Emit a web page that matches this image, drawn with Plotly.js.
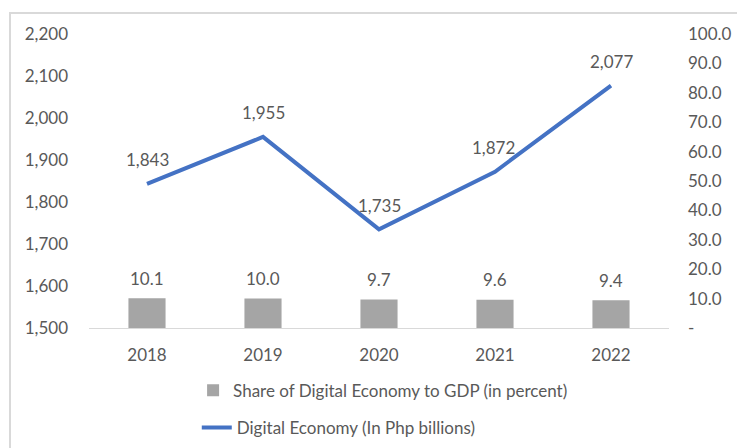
<!DOCTYPE html>
<html><head><meta charset="utf-8">
<script src="https://cdn.plot.ly/plotly-3.0.1.min.js"></script>
<style>
html,body{margin:0;padding:0;background:#fff;overflow:hidden;}
#frame{position:absolute;left:9px;top:12px;width:900px;height:600px;border:2px solid #D9D9D9;}
#chart{position:absolute;left:0;top:0;width:737px;height:448px;}
</style></head>
<body>
<div id="frame"></div>
<div id="chart"></div>
<script>
const years = ['2018','2019','2020','2021','2022'];
const sharePct = [10.1, 10.0, 9.7, 9.6, 9.4];
const digitalEconomy = [1843, 1955, 1735, 1872, 2077];
const leftTicks = [1500,1600,1700,1800,1900,2000,2100,2200];
const rightTicks = [0,10,20,30,40,50,60,70,80,90,100];
const rightTickText = ['-','10.0','20.0','30.0','40.0','50.0','60.0','70.0','80.0','90.0','100.0'];

const FONT = 'Lato, "Open Sans", sans-serif';
const TXT = '#595959';
const FS = 17;

const traces = [
  {type:'bar', x:years, y:sharePct, yaxis:'y2', name:'Share of Digital Economy to GDP (in percent)',
   marker:{color:'#A5A5A5'}, width:0.32, hoverinfo:'skip', legend:'legend'},
  {type:'scatter', mode:'lines', x:years, y:digitalEconomy, name:'Digital Economy (In Php billions)',
   line:{color:'#4472C4', width:4}, hoverinfo:'skip', legend:'legend2'}
];

const annotations = [];
years.forEach((yr,i)=>{
  annotations.push({x:i, y:sharePct[i], xref:'x', yref:'y2', text:sharePct[i].toFixed(1),
    showarrow:false, yanchor:'middle', yshift:20, font:{family:FONT,size:FS,color:TXT}});
  annotations.push({x:i, y:digitalEconomy[i], xref:'x', yref:'y', text:digitalEconomy[i].toLocaleString('en-US'),
    showarrow:false, yanchor:'middle', yshift:24, xshift:(i===3?-2:0), font:{family:FONT,size:FS,color:TXT}});
});

const layout = {
  width:737, height:448,
  margin:{l:89, r:68, t:34, b:120, autoexpand:false},
  paper_bgcolor:'rgba(0,0,0,0)', plot_bgcolor:'rgba(0,0,0,0)',
  font:{family:FONT, size:FS, color:TXT},
  showlegend:true,
  xaxis:{type:'category', categoryorder:'array', categoryarray:years, range:[-0.5,4.5], autorange:false,
    showgrid:false, showline:true, linecolor:'#D9D9D9', linewidth:1,
    ticks:'', ticklabelstandoff:12, tickfont:{family:FONT,size:FS,color:TXT}, fixedrange:true},
  yaxis:{range:[1500,2200], autorange:false, tickvals:leftTicks, tickformat:',', showgrid:false, zeroline:false,
    showline:false, ticks:'', ticklabelstandoff:20, tickfont:{family:FONT,size:FS,color:TXT}},
  yaxis2:{range:[0,100], autorange:false, overlaying:'y', side:'right', tickvals:rightTicks, ticktext:rightTickText,
    showgrid:false, zeroline:false, showline:false, ticks:'', ticklabelstandoff:18,
    tickfont:{family:FONT,size:FS,color:TXT}},
  legend:{xref:'container', yref:'container', x:0.262, y:0.128, xanchor:'left', yanchor:'middle', bgcolor:'rgba(0,0,0,0)',
    font:{family:FONT,size:FS,color:TXT}},
  legend2:{xref:'container', yref:'container', x:0.267, y:0.045, xanchor:'left', yanchor:'middle', bgcolor:'rgba(0,0,0,0)',
    font:{family:FONT,size:FS,color:TXT}},
  annotations:annotations
};

Plotly.newPlot('chart', traces, layout, {staticPlot:true, displayModeBar:false});
</script>
</body></html>
